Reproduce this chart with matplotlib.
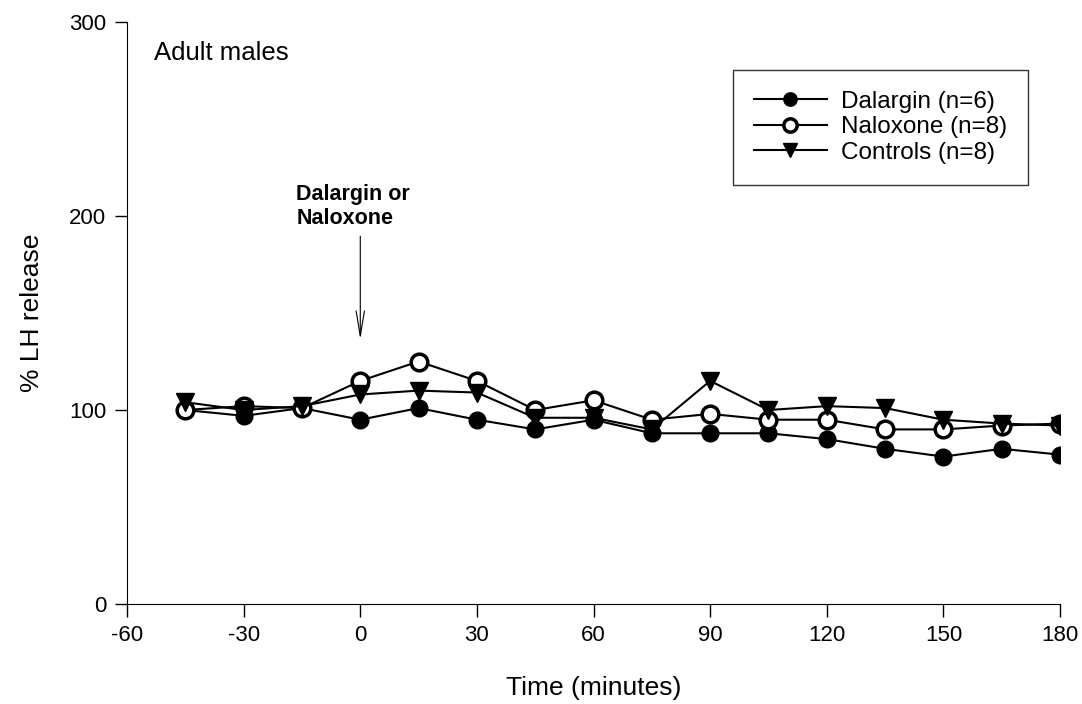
import matplotlib.pyplot as plt
import numpy as np

plt.rcParams['font.family'] = ['Liberation Sans', 'DejaVu Sans']
plt.rcParams['axes.unicode_minus'] = False

# time points (minutes)
time = [-45, -30, -15, 0, 15, 30, 45, 60, 75, 90, 105, 120, 135, 150, 165, 180]

# % LH release per group
dalargin = [100, 97, 101, 95, 101, 95, 90, 95, 88, 88, 88, 85, 80, 76, 80, 77]
naloxone = [100, 102, 101, 115, 125, 115, 100, 105, 95, 98, 95, 95, 90, 90, 92, 93]
controls = [104, 100, 102, 108, 110, 109, 96, 96, 90, 115, 100, 102, 101, 95, 93, 92]

labels = ['Dalargin (n=6)', 'Naloxone (n=8)', 'Controls (n=8)']
xticks = [-60, -30, 0, 30, 60, 90, 120, 150, 180]
yticks = [0, 100, 200, 300]

fig = plt.figure(figsize=(10.82, 7.04), dpi=100)
ax = fig.add_axes([0.1174, 0.142, 0.8623, 0.8268])

ax.plot(time, dalargin, color='black', lw=1.5, marker='o', ms=12,
        mfc='black', mec='black', label=labels[0], zorder=3)
ax.plot(time, naloxone, color='black', lw=1.5, marker='o', ms=12,
        mfc='white', mec='black', mew=2.5, label=labels[1], zorder=3)
ax.plot(time, controls, color='black', lw=1.5, marker='v', ms=13,
        mfc='black', mec='black', label=labels[2], zorder=3)

ax.set_xlim(-60, 180)
ax.set_ylim(0, 300)
ax.set_xticks(xticks)
ax.set_yticks(yticks)
ax.spines['top'].set_visible(False)
ax.spines['right'].set_visible(False)
ax.tick_params(direction='out', length=9, width=1, labelsize=16, pad=6)

ax.set_xlabel('Time (minutes)', fontsize=19, labelpad=22)
ax.set_ylabel('% LH release', fontsize=19, labelpad=18)

ax.text(-53, 284, 'Adult males', fontsize=18.5, va='center')

ax.annotate('', xy=(0, 135), xytext=(0, 191),
            arrowprops=dict(arrowstyle='->,head_length=1.8,head_width=0.3',
                            color='black', lw=0.8))
ax.text(-16.5, 205, 'Dalargin or\nNaloxone', fontsize=15.5, fontweight='bold',
        va='center', ha='left', linespacing=1.2)

leg = ax.legend(loc='upper right', bbox_to_anchor=(0.9657, 0.9175), fontsize=17.5,
                frameon=True, fancybox=False, edgecolor='black',
                handlelength=3.0, borderpad=0.85, labelspacing=0.15,
                handletextpad=0.6, markerscale=0.8, borderaxespad=0)
leg.get_frame().set_linewidth(1.0)

fig.savefig('out.png', dpi=100)
